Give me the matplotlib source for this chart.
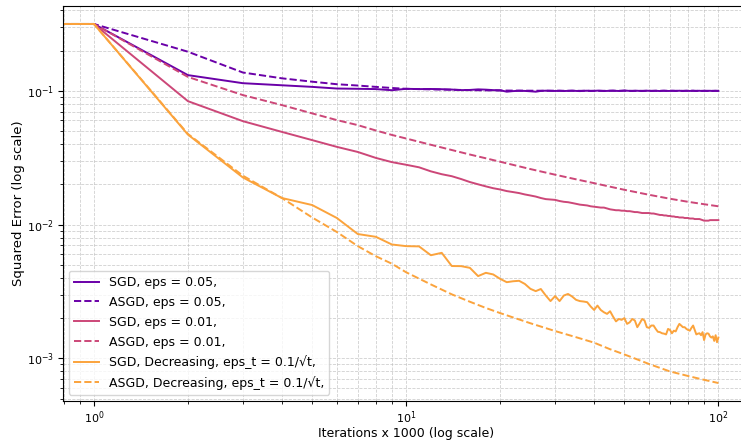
import matplotlib
matplotlib.use("Agg")
import matplotlib.pyplot as plt

# iterations (x 1000), every 1000 iterations for the SGD runs
x_full = list(range(0, 101))
# ASGD curves are smooth, a coarser grid is enough
x_avg = [0, 1, 2, 3, 4, 5, 6, 7, 8, 9, 10, 12, 14, 16, 18, 20, 25, 30, 35, 40,
         45, 50, 60, 70, 80, 90, 100]

sgd_005 = [0.316, 0.316, 0.131, 0.114, 0.110, 0.107, 0.104, 0.1035, 0.103, 0.101,
           0.1035, 0.1030, 0.1032, 0.1028, 0.1022, 0.1012, 0.1015, 0.1025, 0.1020, 0.1012,
           0.1010, 0.0985, 0.0995, 0.1000, 0.0998, 0.0992, 0.0985, 0.0998, 0.1002, 0.1000,
           0.0997, 0.1001, 0.0996, 0.0999, 0.1003, 0.0998, 0.0995, 0.1000, 0.1002, 0.0997,
           0.0999, 0.1003, 0.1000, 0.0996, 0.0998, 0.1002, 0.1004, 0.0999, 0.0997, 0.1001,
           0.1006, 0.1002, 0.0998, 0.0997, 0.1000, 0.1001, 0.0998, 0.0996, 0.0999, 0.1002,
           0.1000, 0.0997, 0.0999, 0.1001, 0.0998, 0.0996, 0.1000, 0.1002, 0.0999, 0.0997,
           0.0998, 0.1001, 0.1000, 0.0997, 0.0999, 0.1002, 0.0998, 0.0996, 0.0999, 0.1001,
           0.0999, 0.0997, 0.1000, 0.1002, 0.0998, 0.0997, 0.0999, 0.1001, 0.0998, 0.0997,
           0.1000, 0.0999, 0.0997, 0.0999, 0.1001, 0.0998, 0.0997, 0.0999, 0.1000, 0.0998,
           0.0998]

asgd_005 = [0.316, 0.316, 0.196, 0.137, 0.124, 0.117, 0.112, 0.1095, 0.107, 0.105,
            0.1035, 0.1025, 0.1018, 0.1012, 0.1008, 0.1005, 0.1002, 0.1001, 0.1000, 0.1000,
            0.1000, 0.1000, 0.1000, 0.1000, 0.1000, 0.1000, 0.1000]

sgd_001 = [0.316, 0.316, 0.0837, 0.0593, 0.0493, 0.0428, 0.0381, 0.0349, 0.0315, 0.0293,
           0.0280, 0.0268, 0.0250, 0.0238, 0.0230, 0.0219, 0.0208, 0.0200, 0.0193, 0.0187,
           0.0183, 0.0178, 0.0175, 0.0172, 0.0168, 0.0165, 0.0162, 0.0158, 0.0155, 0.0154,
           0.0153, 0.0150, 0.0148, 0.0147, 0.0145, 0.0143, 0.0141, 0.0140, 0.0139, 0.0137,
           0.0136, 0.0135, 0.0134, 0.0134, 0.0132, 0.0130, 0.0129, 0.0128, 0.0128, 0.0127,
           0.0127, 0.0126, 0.0126, 0.0125, 0.0124, 0.0124, 0.0123, 0.0122, 0.0122, 0.0122,
           0.0122, 0.0121, 0.0121, 0.0120, 0.0119, 0.0118, 0.0118, 0.0117, 0.0117, 0.0116,
           0.0116, 0.0115, 0.0115, 0.0114, 0.0114, 0.0113, 0.0113, 0.0113, 0.0112, 0.0112,
           0.0112, 0.0111, 0.0111, 0.0111, 0.0110, 0.0110, 0.0110, 0.0110, 0.0109, 0.0108,
           0.0107, 0.0107, 0.0107, 0.0107, 0.0108, 0.0108, 0.0108, 0.0108, 0.0108, 0.0108,
           0.0108]

asgd_001 = [0.316, 0.316, 0.127, 0.0929, 0.0782, 0.0678, 0.0604, 0.0554, 0.0505, 0.0468,
            0.0440, 0.0395, 0.0361, 0.0334, 0.0313, 0.0295, 0.0260, 0.0236, 0.0218, 0.0204,
            0.0192, 0.0182, 0.0167, 0.0156, 0.0148, 0.0142, 0.0137]

sgd_dec = [0.316, 0.316, 0.0471, 0.0225, 0.0158, 0.0140, 0.0112, 0.0085, 0.0081, 0.0071,
           0.0069, 0.00687, 0.0059, 0.00615, 0.0049, 0.00489, 0.00475, 0.00412, 0.00436, 0.00424,
           0.00393, 0.00371, 0.00377, 0.0038, 0.0036, 0.00331, 0.00318, 0.0033, 0.00295, 0.00268,
           0.00292, 0.00268, 0.00295, 0.00303, 0.0029, 0.00274, 0.00268, 0.00266, 0.00263, 0.00244,
           0.0023, 0.00248, 0.0023, 0.00221, 0.00215, 0.00225, 0.00205, 0.00189, 0.00197, 0.00194,
           0.002, 0.00181, 0.00186, 0.00197, 0.00192, 0.00171, 0.00183, 0.00197, 0.00192, 0.00171,
           0.00169, 0.00176, 0.00176, 0.00166, 0.00158, 0.00157, 0.00154, 0.00153, 0.00151, 0.00166,
           0.00163, 0.00154, 0.00161, 0.00159, 0.00171, 0.00181, 0.00176, 0.00171, 0.00171, 0.00166,
           0.00163, 0.00161, 0.00169, 0.00176, 0.00163, 0.00151, 0.00153, 0.00154, 0.00149, 0.00157,
           0.00137, 0.00151, 0.00154, 0.00153, 0.00146, 0.00143, 0.00146, 0.00135, 0.00149, 0.00132,
           0.00143]

asgd_dec = [0.316, 0.316, 0.0476, 0.0232, 0.0158, 0.0113, 0.0088, 0.0069, 0.0058, 0.0051,
            0.0044, 0.00357, 0.00301, 0.00265, 0.00238, 0.00218, 0.00183, 0.00160, 0.00144, 0.00131,
            0.00117, 0.00107, 0.000907, 0.000798, 0.000738, 0.000691, 0.000654]

labels = ["SGD, eps = 0.05,", "ASGD, eps = 0.05,",
          "SGD, eps = 0.01,", "ASGD, eps = 0.01,",
          "SGD, Decreasing, eps_t = 0.1/\u221at,", "ASGD, Decreasing, eps_t = 0.1/\u221at,"]

c_purple = "#6a00a8"
c_pink = "#cc4778"
c_orange = "#fba33c"

fig = plt.figure(figsize=(7.41, 4.42), dpi=100)
# axes runs slightly past the right edge like the original crop
ax = fig.add_axes([0.0846, 0.0928, 0.927, 0.8936])

ax.plot(x_full, sgd_005, color=c_purple, lw=1.4, label=labels[0])
ax.plot(x_avg, asgd_005, color=c_purple, lw=1.4, ls="--", label=labels[1])
ax.plot(x_full, sgd_001, color=c_pink, lw=1.4, label=labels[2])
ax.plot(x_avg, asgd_001, color=c_pink, lw=1.4, ls="--", label=labels[3])
ax.plot(x_full, sgd_dec, color=c_orange, lw=1.4, label=labels[4])
ax.plot(x_avg, asgd_dec, color=c_orange, lw=1.4, ls="--", label=labels[5])

ax.set_xscale("log")
ax.set_yscale("log")
ax.grid(True, which="both", ls="--", lw=0.6, color="#bbbbbb", alpha=0.7)
ax.tick_params(labelsize=8, pad=2.5)
ax.set_xlabel("Iterations x 1000 (log scale)", fontsize=9, labelpad=1)
ax.set_ylabel("Squared Error (log scale)", fontsize=9.5, labelpad=2)
ax.legend(loc="lower left", fontsize=9, labelspacing=0.55)

plt.savefig("out.png", dpi=100)
